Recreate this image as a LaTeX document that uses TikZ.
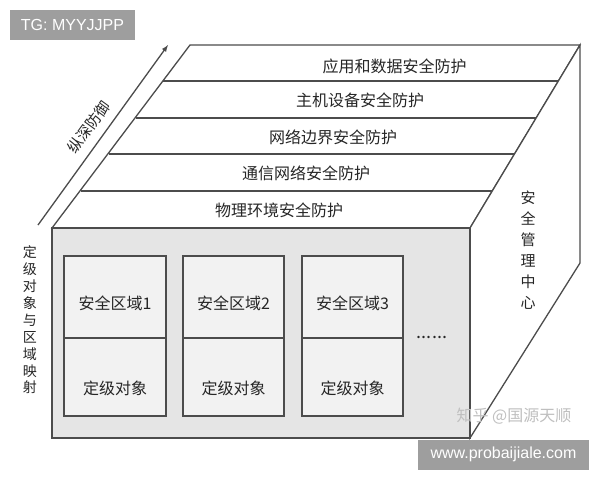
\documentclass[tikz,border=0pt]{standalone}
\usepackage{fontspec}
\setmainfont{Noto Sans CJK SC}
\newfontfamily\latinsans{Liberation Sans}
\definecolor{markgray}{rgb}{0.620000, 0.620000, 0.620000}
\definecolor{inkgray}{rgb}{0.150000, 0.150000, 0.150000}
\tikzset{
  layerlabel/.style={inner sep=0pt, text=inkgray, font=\fontsize{16}{18}\selectfont},
  boxlabel/.style={inner sep=0pt, text=inkgray, font=\fontsize{16}{18}\selectfont},
  sidelabel/.style={inner sep=0pt, align=center, text=inkgray},
  markbox/.style={inner sep=0pt, fill=markgray, text=white, minimum height=30\du, font=\latinsans\fontsize{16}{18}\selectfont},
}
\newlength{\du}
\setlength{\du}{1\unitlength}

\begin{document}
\begin{tikzpicture}
\pgftransformxscale{1.000000}
\pgftransformyscale{-1.000000}
\useasboundingbox (0.000000\du,0.000000\du) rectangle (600.000000\du,480.000000\du);
\definecolor{dialinecolor}{rgb}{1.000000, 1.000000, 1.000000}
\pgfsetfillcolor{dialinecolor}
\fill (0.000000\du,0.000000\du)--(600.000000\du,0.000000\du)--(600.000000\du,480.000000\du)--(0.000000\du,480.000000\du)--cycle;
\pgfsetlinewidth{1.300000\du}
\pgfsetdash{}{0pt}
% layers on top
\definecolor{dialinecolor}{rgb}{1.000000, 1.000000, 1.000000}
\pgfsetfillcolor{dialinecolor}
\fill (190.000000\du,45.000000\du)--(580.000000\du,45.000000\du)--(470.000000\du,228.000000\du)--(52.000000\du,228.000000\du)--cycle;
\definecolor{dialinecolor}{rgb}{0.300000, 0.300000, 0.300000}
\pgfsetstrokecolor{dialinecolor}
\draw (190.000000\du,45.000000\du)--(580.000000\du,45.000000\du)--(470.000000\du,228.000000\du)--(52.000000\du,228.000000\du)--cycle;
\draw (163.000000\du,81.000000\du)--(558.000000\du,81.000000\du);
\draw (136.000000\du,118.000000\du)--(536.000000\du,118.000000\du);
\draw (109.000000\du,154.000000\du)--(514.000000\du,154.000000\du);
\draw (81.000000\du,191.000000\du)--(492.000000\du,191.000000\du);
% setfont left to latex
\node[layerlabel] (layerApp) at (394.500000\du,66.000000\du){应用和数据安全防护};
% setfont left to latex
\node[layerlabel] (layerHost) at (360.000000\du,100.000000\du){主机设备安全防护};
% setfont left to latex
\node[layerlabel] (layerBorder) at (333.000000\du,137.000000\du){网络边界安全防护};
% setfont left to latex
\node[layerlabel] (layerComm) at (306.000000\du,173.000000\du){通信网络安全防护};
% setfont left to latex
\node[layerlabel] (layerPhys) at (279.000000\du,210.000000\du){物理环境安全防护};
% right face
\definecolor{dialinecolor}{rgb}{1.000000, 1.000000, 1.000000}
\pgfsetfillcolor{dialinecolor}
\fill (470.000000\du,228.000000\du)--(580.000000\du,45.000000\du)--(580.000000\du,263.000000\du)--(470.000000\du,438.000000\du)--cycle;
\definecolor{dialinecolor}{rgb}{0.300000, 0.300000, 0.300000}
\pgfsetstrokecolor{dialinecolor}
\draw (470.000000\du,228.000000\du)--(580.000000\du,45.000000\du)--(580.000000\du,263.000000\du)--(470.000000\du,438.000000\du)--cycle;
% setfont left to latex
\node[sidelabel, font=\fontsize{15}{21}\selectfont] (mgmtCenter) at (528.000000\du,250.500000\du){安\\全\\管\\理\\中\\心};
% front face
\definecolor{dialinecolor}{rgb}{0.900000, 0.900000, 0.900000}
\pgfsetfillcolor{dialinecolor}
\fill (52.000000\du,228.000000\du)--(470.000000\du,228.000000\du)--(470.000000\du,438.000000\du)--(52.000000\du,438.000000\du)--cycle;
\definecolor{dialinecolor}{rgb}{0.300000, 0.300000, 0.300000}
\pgfsetstrokecolor{dialinecolor}
\draw (52.000000\du,228.000000\du)--(470.000000\du,228.000000\du)--(470.000000\du,438.000000\du)--(52.000000\du,438.000000\du)--cycle;
% zone 1
\definecolor{dialinecolor}{rgb}{0.950000, 0.950000, 0.950000}
\pgfsetfillcolor{dialinecolor}
\fill (64.000000\du,256.000000\du)--(166.000000\du,256.000000\du)--(166.000000\du,416.000000\du)--(64.000000\du,416.000000\du)--cycle;
\definecolor{dialinecolor}{rgb}{0.300000, 0.300000, 0.300000}
\pgfsetstrokecolor{dialinecolor}
\draw (64.000000\du,256.000000\du)--(166.000000\du,256.000000\du)--(166.000000\du,416.000000\du)--(64.000000\du,416.000000\du)--cycle;
\draw (64.000000\du,338.000000\du)--(166.000000\du,338.000000\du);
% setfont left to latex
\node[boxlabel] (zoneA) at (115.000000\du,303.000000\du){安全区域1};
% setfont left to latex
\node[boxlabel] (levelA) at (115.000000\du,388.000000\du){定级对象};
% zone 2
\definecolor{dialinecolor}{rgb}{0.950000, 0.950000, 0.950000}
\pgfsetfillcolor{dialinecolor}
\fill (183.000000\du,256.000000\du)--(284.000000\du,256.000000\du)--(284.000000\du,416.000000\du)--(183.000000\du,416.000000\du)--cycle;
\definecolor{dialinecolor}{rgb}{0.300000, 0.300000, 0.300000}
\pgfsetstrokecolor{dialinecolor}
\draw (183.000000\du,256.000000\du)--(284.000000\du,256.000000\du)--(284.000000\du,416.000000\du)--(183.000000\du,416.000000\du)--cycle;
\draw (183.000000\du,338.000000\du)--(284.000000\du,338.000000\du);
% setfont left to latex
\node[boxlabel] (zoneB) at (233.500000\du,303.000000\du){安全区域2};
% setfont left to latex
\node[boxlabel] (levelB) at (233.500000\du,388.000000\du){定级对象};
% zone 3
\definecolor{dialinecolor}{rgb}{0.950000, 0.950000, 0.950000}
\pgfsetfillcolor{dialinecolor}
\fill (302.000000\du,256.000000\du)--(403.000000\du,256.000000\du)--(403.000000\du,416.000000\du)--(302.000000\du,416.000000\du)--cycle;
\definecolor{dialinecolor}{rgb}{0.300000, 0.300000, 0.300000}
\pgfsetstrokecolor{dialinecolor}
\draw (302.000000\du,256.000000\du)--(403.000000\du,256.000000\du)--(403.000000\du,416.000000\du)--(302.000000\du,416.000000\du)--cycle;
\draw (302.000000\du,338.000000\du)--(403.000000\du,338.000000\du);
% setfont left to latex
\node[boxlabel] (zoneC) at (352.500000\du,303.000000\du){安全区域3};
% setfont left to latex
\node[boxlabel] (levelC) at (352.500000\du,388.000000\du){定级对象};
% setfont left to latex
\node[boxlabel, font=\fontsize{18}{18}\selectfont] (moreDots) at (432.000000\du,337.000000\du){......};
% left side
% setfont left to latex
\node[sidelabel, font=\fontsize{14}{16.9}\selectfont] (mapLabel) at (30.000000\du,320.000000\du){定\\级\\对\\象\\与\\区\\域\\映\\射};
\coordinate (depthTail) at (38.000000\du,225.000000\du);
\coordinate (depthHead) at (168.000000\du,45.000000\du);
\definecolor{dialinecolor}{rgb}{0.300000, 0.300000, 0.300000}
\pgfsetstrokecolor{dialinecolor}
\draw[-latex] (depthTail)--(depthHead);
% setfont left to latex
\node[sidelabel, rotate=54, font=\fontsize{15}{17}\selectfont] (depthLabel) at (89.000000\du,127.000000\du){纵深防御};
% marks
\node[markbox, minimum width=125\du] (tgMark) at (72.500000\du,25.000000\du){TG: MYYJJPP};
\node[markbox, minimum width=171\du] (siteMark) at (503.500000\du,454.500000\du){www.probaijiale.com};
\node[inner sep=0pt, text=black!25, font=\fontsize{16}{18}\selectfont] (zhihuMark) at (514.000000\du,416.000000\du){知乎 @国源天顺};
\end{tikzpicture}
\end{document}
